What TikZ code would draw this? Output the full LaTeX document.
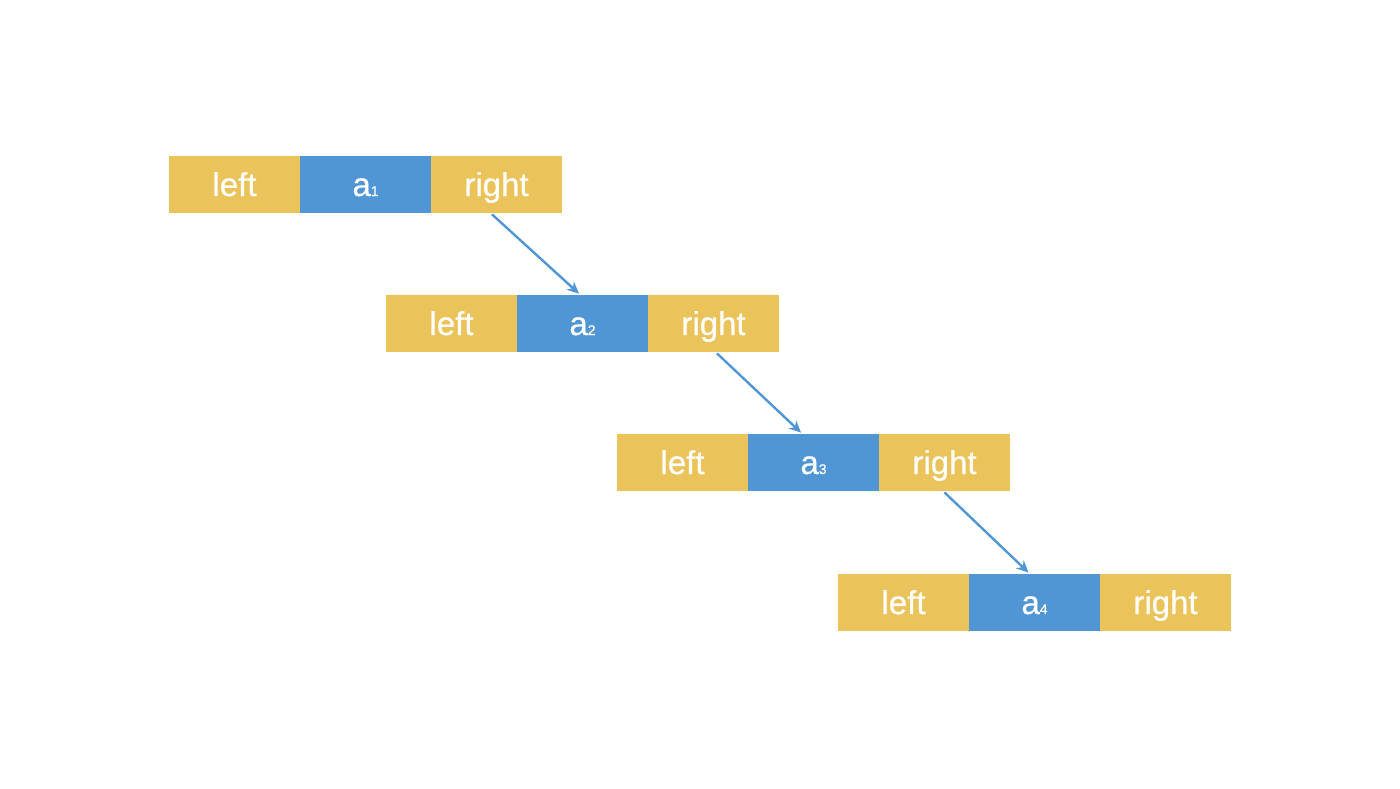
\documentclass[tikz,border=0pt]{standalone}
\usepackage{fontspec}
\setmainfont{Liberation Sans}
\newfontfamily\cellfont{Liberation Sans}[FakeBold=0.6]
\usepackage{tikz}
\usetikzlibrary{positioning,arrows.meta}
\definecolor{cellyellow}{RGB}{234,196,90}
\definecolor{cellblue}{RGB}{80,150,212}
\newcommand{\sub}[1]{{\fontsize{7}{7}\selectfont #1}}

\begin{document}
\begin{tikzpicture}[
    x=0.5pt, y=-0.5pt,
    node distance=0pt,
    cell/.style={rectangle, minimum width=65.5pt, minimum height=28.5pt, inner sep=0pt, outer sep=0pt,
        text height=12pt, text depth=0.5pt, text=white, font=\cellfont\fontsize{16.5}{18}\selectfont},
    ptr/.style={cell, fill=cellyellow},
    val/.style={cell, fill=cellblue},
    link/.style={draw=cellblue, line width=1.2pt, -{Stealth[length=6pt,width=5.5pt]}, shorten <=1pt, shorten >=1pt}
]
    \useasboundingbox (0,0) rectangle (1400,788);

    % Row 1
    \node[ptr] (left1) at (234.5,184.5) {left};
    \node[val, right=of left1] (a1) {a\sub{1}};
    \node[ptr, right=of a1] (right1) {right};

    % Row 2
    \node[ptr] (left2) at (451.5,323.5) {left};
    \node[val, right=of left2] (a2) {a\sub{2}};
    \node[ptr, right=of a2] (right2) {right};

    % Row 3
    \node[ptr] (left3) at (682.5,462.5) {left};
    \node[val, right=of left3] (a3) {a\sub{3}};
    \node[ptr, right=of a3] (right3) {right};

    % Row 4
    \node[ptr] (left4) at (903.5,602.5) {left};
    \node[val, right=of left4] (a4) {a\sub{4}};
    \node[ptr, right=of a4] (right4) {right};

    % Links
    \draw[link] ([xshift=-3pt]right1.south) -- ([xshift=-1pt]a2.north);
    \draw[link] ([xshift=1pt]right2.south) -- ([xshift=-5.5pt]a3.north);
    \draw[link] ([xshift=-0.75pt]right3.south) -- ([xshift=-2.25pt]a4.north);
\end{tikzpicture}
\end{document}
